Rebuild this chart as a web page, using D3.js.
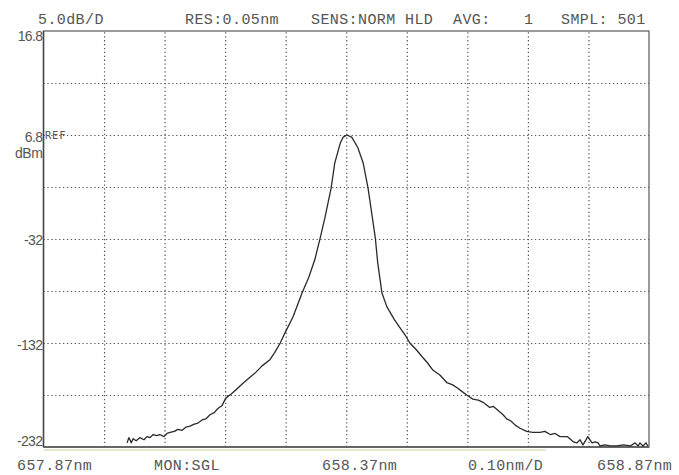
<!DOCTYPE html>
<html>
<head>
<meta charset="utf-8">
<script src="https://cdn.jsdelivr.net/npm/d3@7"></script>
<style>
  html, body { margin: 0; padding: 0; background: #fff; }
  svg { display: block; }
</style>
</head>
<body>
<svg id="chart" width="679" height="475"></svg>
<script>
// ---- Data ----
const xDomain = [657.87, 658.87];
const yDomain = [-23.2, 16.8];
const xGrid = [657.97, 658.07, 658.17, 658.27, 658.37, 658.47, 658.57, 658.67, 658.77];
const yGrid = [11.8, 6.8, 1.8, -3.2, -8.2, -13.2, -18.2];
const yTickValues = [16.8, 6.8, -3.2, -13.2, -23.2];
const yTickLabels = ["16.8", "6.8", "-32", "-132", "-232"];
const headerTexts = ["5.0dB/D", "RES:0.05nm", "SENS:NORM HLD", "AVG:", "1", "SMPL: 501"];
const footerTexts = ["657.87nm", "MON:SGL", "658.37nm", "0.10nm/D", "658.87nm"];

const wavelength = [
  658.008, 658.011, 658.015, 658.018, 658.023, 658.029, 658.036, 658.041, 658.046, 658.051,
  658.057, 658.062, 658.069, 658.074, 658.079, 658.086, 658.092, 658.099, 658.105, 658.112,
  658.119, 658.125, 658.132, 658.138, 658.145, 658.152, 658.158, 658.165, 658.171, 658.180,
  658.188, 658.199, 658.211, 658.221, 658.231, 658.244, 658.252, 658.261, 658.269, 658.282,
  658.297, 658.308, 658.318, 658.327, 658.335, 658.345, 658.351, 658.360, 658.365, 658.371,
  658.379, 658.389, 658.398, 658.406, 658.413, 658.418, 658.422, 658.429, 658.437, 658.450,
  658.462, 658.468, 658.475, 658.485, 658.495, 658.504, 658.513, 658.525, 658.536, 658.545,
  658.553, 658.562, 658.569, 658.579, 658.588, 658.596, 658.607, 658.613, 658.619, 658.629,
  658.635, 658.642, 658.649, 658.657, 658.668, 658.678, 658.690, 658.698, 658.707, 658.715,
  658.723, 658.735, 658.745, 658.751, 658.756, 658.761, 658.769, 658.776, 658.781, 658.786,
  658.789, 658.797, 658.806, 658.817, 658.828, 658.839, 658.847, 658.852, 658.855, 658.860,
  658.865, 658.868
];
const power = [
  -22.8, -22.3, -22.8, -22.4, -22.6, -22.3, -22.5, -22.2, -22.3, -22.0,
  -22.1, -22.0, -22.2, -21.9, -21.8, -21.7, -21.5, -21.6, -21.3, -21.2,
  -21.0, -20.9, -20.6, -20.5, -20.1, -19.9, -19.5, -19.2, -18.5, -18.1,
  -17.7, -17.1, -16.5, -16.0, -15.4, -14.8, -14.1, -13.2, -12.2, -10.7,
  -8.4, -6.9, -5.2, -3.1, -1.1, 1.7, 4.1, 6.0, 6.6, 6.8,
  6.6, 5.6, 4.1, 1.7, -1.1, -3.1, -5.5, -8.4, -9.7, -11.0,
  -12.0, -12.5, -13.2, -13.8, -14.5, -15.1, -15.8, -16.3, -17.0, -17.2,
  -17.5, -17.9, -18.2, -18.6, -18.7, -18.9, -19.4, -19.3, -19.6, -20.1,
  -20.5, -20.7, -21.1, -21.4, -21.7, -21.8, -21.8, -21.7, -22.0, -21.9,
  -22.2, -22.2, -22.7, -22.8, -22.5, -23.0, -22.2, -22.8, -22.7, -22.8,
  -23.1, -23.0, -23.1, -23.1, -23.0, -23.1, -22.8, -23.1, -22.8, -23.1,
  -22.8, -23.1
];

// ---- Layout ----
const margin = { left: 43.5, top: 31, right: 30, bottom: 28 };
const W = 605.5, H = 416;
const svg = d3.select("#chart");
svg.append("rect").attr("width", 679).attr("height", 475).attr("fill", "#fff");

const x = d3.scaleLinear().domain(xDomain).range([0, W]);
const y = d3.scaleLinear().domain(yDomain).range([H, 0]);

const g = svg.append("g").attr("transform", `translate(${margin.left},${margin.top})`);

// grid via axes
const gridStyle = sel => {
  sel.select(".domain").remove();
  sel.selectAll(".tick text").remove();
  sel.selectAll(".tick line")
    .attr("stroke", "#555")
    .attr("stroke-width", 1.2)
    .attr("stroke-dasharray", "1.3,2.6");
};
g.append("g").attr("transform", `translate(0,${H})`)
  .call(d3.axisBottom(x).tickValues(xGrid).tickSize(-H).tickFormat(""))
  .call(gridStyle);
g.append("g")
  .call(d3.axisLeft(y).tickValues(yGrid).tickSize(-W).tickFormat(""))
  .call(gridStyle);

// frame
g.append("rect").attr("x", 0).attr("y", 0).attr("width", W).attr("height", H)
  .attr("fill", "none").attr("stroke", "#666").attr("stroke-width", 1.3);
g.append("line").attr("x1", 0).attr("x2", 0).attr("y1", 0).attr("y2", H)
  .attr("stroke", "#444").attr("stroke-width", 1.4);
g.append("line").attr("x1", 0).attr("x2", W).attr("y1", H).attr("y2", H)
  .attr("stroke", "#555").attr("stroke-width", 1.6);
g.append("line").attr("x1", 0).attr("x2", x(658.70)).attr("y1", H + 3).attr("y2", H + 3)
  .attr("stroke", "#c8d49a").attr("stroke-width", 1.2);

// trace
g.append("clipPath").attr("id", "clip").append("rect")
  .attr("x", 0).attr("y", 0).attr("width", W).attr("height", H);
const pts = wavelength.map((w, i) => [w, power[i]]);
g.append("path")
  .datum(pts)
  .attr("clip-path", "url(#clip)")
  .attr("fill", "none")
  .attr("stroke", "#2a2a2a")
  .attr("stroke-width", 1.3)
  .attr("stroke-linejoin", "round")
  .attr("d", d3.line().x(d => x(d[0])).y(d => y(d[1])));

// y labels
const yDy = [10, 7, 6, 7, -1];
const labFont = "'Liberation Sans', Arial, sans-serif";
yTickValues.forEach((v, i) => {
  g.append("text")
    .attr("x", -1).attr("y", y(v) + yDy[i])
    .attr("text-anchor", "end")
    .attr("font-family", labFont).attr("font-size", 14)
    .attr("fill", "#555")
    .style("letter-spacing", "-0.6px")
    .text(yTickLabels[i]);
});
g.append("text").attr("x", -1).attr("y", y(6.8) + 23)
  .attr("text-anchor", "end").attr("font-family", labFont).attr("font-size", 14)
  .attr("fill", "#555").style("letter-spacing", "-0.4px").text("dBm");
g.append("text").attr("x", 1.5).attr("y", y(6.8) + 3.5)
  .attr("font-family", "'DejaVu Sans Mono', monospace").attr("font-size", 10.5)
  .attr("fill", "#555").style("letter-spacing", "0.8px").text("REF");

// header and footer (monospace)
const mono = "'Liberation Mono', 'DejaVu Sans Mono', monospace";
const headerX = [38, 185, 311, 453, 524, 561];
headerTexts.forEach((t, i) => {
  svg.append("text").attr("x", headerX[i]).attr("y", 24)
    .attr("font-family", mono).attr("font-size", 15)
    .attr("fill", "#555").style("letter-spacing", "0.4px").text(t);
});
const footerX = [17, 154, 322, 468, 597];
footerTexts.forEach((t, i) => {
  svg.append("text").attr("x", footerX[i]).attr("y", 470)
    .attr("font-family", mono).attr("font-size", 15)
    .attr("fill", "#555").style("letter-spacing", "0.4px").text(t);
});
</script>
</body>
</html>
